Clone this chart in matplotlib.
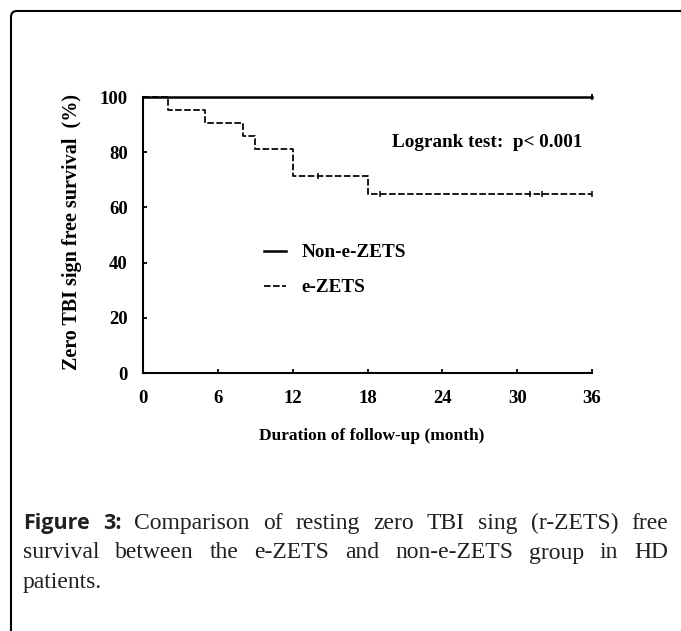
import matplotlib
matplotlib.use("Agg")
import matplotlib.pyplot as plt
from matplotlib.path import Path
from matplotlib.patches import PathPatch

# ─── data ─────────────────────────────────────────────
months = [0, 6, 12, 18, 24, 30, 36]
pct_ticks = [0, 20, 40, 60, 80, 100]

non_time = [0, 36]
non_surv = [100, 100]
non_cens_time = [36]
non_cens_surv = [100]

e_time = [0, 2, 5, 8, 9, 12, 18, 36]
e_surv = [100, 95.2, 90.5, 85.7, 81.0, 71.4, 64.9, 64.9]
e_cens_time = [14, 19, 31, 32, 36]
e_cens_surv = [71.4, 64.9, 64.9, 64.9, 64.9]

labels = ["Non-e-ZETS", "e-ZETS"]
caption = [
    "Comparison of resting zero TBI sing (r-ZETS) free",
    "survival between the e-ZETS and non-e-ZETS group in HD",
    "patients.",
]

W, H = 681, 631
SERIF = "Liberation Serif"

fig = plt.figure(figsize=(W / 100, H / 100), dpi=100)

# background layer in pixel coords (border + caption)
bg = fig.add_axes([0, 0, 1, 1], zorder=-1)
bg.set_xlim(0, W)
bg.set_ylim(H, 0)
bg.axis("off")

r = 6
verts = [(11, H + 5), (11, 11 + r), (11, 11), (11 + r, 11), (W + 5, 11)]
codes = [Path.MOVETO, Path.LINETO, Path.CURVE3, Path.CURVE3, Path.LINETO]
bg.add_patch(PathPatch(Path(verts, codes), fill=False, lw=1.5, color="black"))

# ─── chart ────────────────────────────────────────────
ax = fig.add_axes([143 / W, 1 - 373 / H, (592 - 143) / W, (373 - 97) / H])
ln1, = ax.step(non_time, non_surv, where="post", color="black", lw=1.8,
               clip_on=False, label=labels[0])
ln2, = ax.step(e_time, e_surv, where="post", color="black", lw=1.25,
               ls=(0, (3.8, 1.4)), clip_on=False, label=labels[1])
ax.plot(non_cens_time, non_cens_surv, ls="none", marker="|", ms=5, mew=1.3,
        color="black", clip_on=False)
ax.plot(e_cens_time, e_cens_surv, ls="none", marker="|", ms=5, mew=1.1,
        color="black", clip_on=False)

ax.set_xlim(0, 36)
ax.set_ylim(0, 100)
ax.set_xticks(months)
ax.set_yticks(pct_ticks)
for s in ("top", "right"):
    ax.spines[s].set_visible(False)
for s in ("left", "bottom"):
    ax.spines[s].set_linewidth(1.5)
ax.tick_params(direction="in", length=3, width=1.3)
ax.tick_params(axis="x", pad=12)
ax.tick_params(axis="y", pad=11)
for t in ax.get_xticklabels() + ax.get_yticklabels():
    t.set_fontfamily(SERIF)
    t.set_fontweight("bold")
    t.set_fontsize(13.5)

ax.text(-0.158, 0.51, "Zero TBI sign free survival  (%)", transform=ax.transAxes,
        rotation=90, ha="center", va="center", family=SERIF,
        weight="bold", fontsize=14.5)
ax.set_xlabel("Duration of follow-up (month)", family=SERIF, weight="bold",
              fontsize=12.5)
ax.xaxis.set_label_coords(0.51, -0.2)
ax.xaxis.label.set_va("top")

ax.text(20.0, 83.4, "Logrank test:  p< 0.001", ha="left", va="center",
        family=SERIF, weight="bold", fontsize=13.75)

ax.legend(handles=[ln1, ln2], loc="upper left", bbox_to_anchor=(0.2695, 0.468),
          frameon=False, borderpad=0, borderaxespad=0, handlelength=1.17,
          handletextpad=0.8, labelspacing=0.93,
          prop={"family": SERIF, "weight": "bold", "size": 13.75})

# ─── caption (justified) ──────────────────────────────
renderer = fig.canvas.get_renderer()
CAP_L, CAP_R = 23, 668
baselines = [529, 558.5, 588]
sans_bold = dict(family="Open Sans", weight="bold", fontsize=15.5)
serif_reg = dict(family=SERIF, fontsize=17)

for i, (line, yb) in enumerate(zip(caption, baselines)):
    words = [(w, serif_reg) for w in line.split()]
    if i == 0:
        words = [("Figure", sans_bold), ("3:", sans_bold)] + words
    arts = [bg.text(0, yb, w, va="baseline", ha="left", color="#231f20", **st)
            for w, st in words]
    widths = [a.get_window_extent(renderer).width for a in arts]
    if i < len(caption) - 1 and len(arts) > 1:
        gap = (CAP_R - CAP_L - sum(widths)) / (len(arts) - 1)
    else:
        gap = 5
    x = CAP_L
    for a, w in zip(arts, widths):
        a.set_x(x)
        x += w + gap

fig.savefig("out.png", dpi=100)
